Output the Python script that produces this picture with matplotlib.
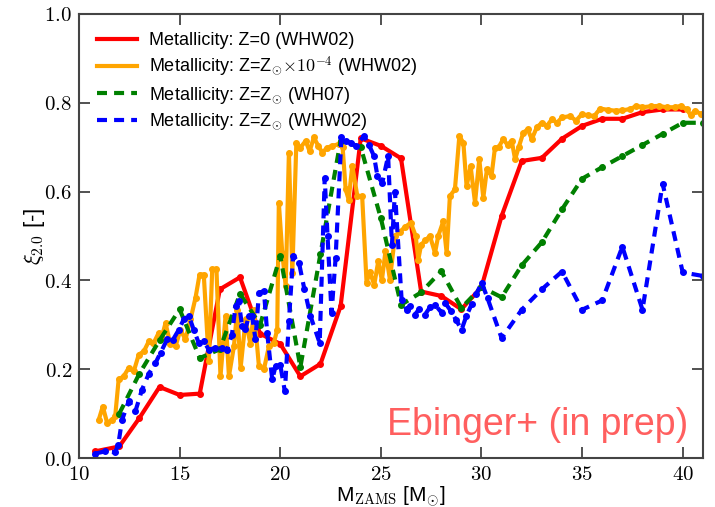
import matplotlib
matplotlib.use('Agg')
import matplotlib.pyplot as plt
from matplotlib.ticker import FormatStrFormatter

plt.rcParams['font.family'] = ['Liberation Sans', 'DejaVu Sans']
plt.rcParams['mathtext.fontset'] = 'cm'

# Z=0 (WHW02)
m_z0 = [10.8, 12, 13, 14, 15, 16, 17, 18, 19, 20, 21, 22, 23, 24, 25, 26, 27, 28, 29, 30,
        31, 32, 33, 34, 35, 36, 37, 38, 39, 40]
xi_z0 = [0.015, 0.026, 0.09, 0.16, 0.142, 0.145, 0.38, 0.407, 0.28, 0.257, 0.184, 0.212, 0.342,
         0.72, 0.703, 0.675, 0.375, 0.365, 0.335, 0.385, 0.545, 0.669, 0.676, 0.719, 0.748,
         0.764, 0.764, 0.779, 0.785, 0.785]

# Z=Zsun x 1e-4 (WHW02)
m_z4 = [10.98, 11.18, 11.4, 11.64, 11.8, 11.97, 12.22, 12.47, 12.72, 12.97, 13.22, 13.47, 13.7,
        13.96, 14.1, 14.3, 14.54, 14.8, 15.04, 15.29, 15.54, 15.79, 15.99, 16.2, 16.45, 16.62,
        16.83, 17.03, 17.28, 17.45, 17.7, 17.86, 18.03, 18.28, 18.52, 18.69, 18.94, 19.19, 19.44,
        19.68, 19.85, 19.93, 20.1, 20.27, 20.43, 20.6, 20.8, 21.0, 21.26, 21.46, 21.67, 21.89,
        22.09, 22.34, 22.59, 22.92, 23.1, 23.25, 23.4, 23.58, 23.83, 24.07, 24.29, 24.45, 24.67,
        24.87, 25.05, 25.23, 25.45, 25.7, 25.95, 26.2, 26.49, 26.73, 26.86, 27.0, 27.2, 27.44,
        27.69, 27.85, 28.1, 28.27, 28.43, 28.68, 28.9, 29.1, 29.26, 29.46, 29.68, 29.89, 30.09,
        30.27, 30.5, 30.67, 30.85, 31.08, 31.3, 31.5, 31.67, 31.85, 32.08, 32.3, 32.5, 32.75,
        33.0, 33.25, 33.5, 33.75, 34.0, 34.4, 34.7, 34.98, 35.3, 35.6, 35.9, 36.3, 36.7, 37.0,
        37.4, 37.7, 38.0, 38.4, 38.8, 39.2, 39.6, 39.9, 40.2, 40.4, 40.6, 40.9]
xi_z4 = [0.086, 0.116, 0.079, 0.086, 0.095, 0.177, 0.184, 0.203, 0.195, 0.233, 0.24, 0.263, 0.258,
         0.282, 0.27, 0.304, 0.256, 0.252, 0.289, 0.267, 0.312, 0.361, 0.413, 0.413, 0.218, 0.425,
         0.425, 0.184, 0.319, 0.184, 0.252, 0.334, 0.203, 0.312, 0.256, 0.334, 0.207, 0.2, 0.252,
         0.259, 0.289, 0.575, 0.462, 0.387, 0.688, 0.417, 0.71, 0.699, 0.714, 0.691, 0.722, 0.703,
         0.688, 0.699, 0.703, 0.707, 0.70, 0.605, 0.582, 0.658, 0.59, 0.59, 0.395, 0.42, 0.39,
         0.443, 0.40, 0.466, 0.402, 0.5, 0.51, 0.52, 0.53, 0.5, 0.447, 0.48, 0.49, 0.5,
         0.462, 0.5, 0.533, 0.462, 0.59, 0.605, 0.725, 0.71, 0.612, 0.657, 0.575, 0.673, 0.586,
         0.65, 0.636, 0.699, 0.70, 0.718, 0.705, 0.715, 0.673, 0.70, 0.733, 0.74, 0.718, 0.745,
         0.755, 0.748, 0.763, 0.755, 0.767, 0.77, 0.76, 0.774, 0.772, 0.77, 0.787, 0.784, 0.782, 0.783,
         0.786, 0.793, 0.79, 0.792, 0.793, 0.79, 0.79, 0.793, 0.785, 0.772, 0.782, 0.775]

# Z=Zsun (WH07)
m_wh07 = [12, 13, 14, 15, 16, 17, 18, 19, 20, 21, 22, 23, 24, 25, 26, 27, 28, 29, 30, 31, 32,
          33, 34, 35, 36, 37, 38, 39, 40, 41]
xi_wh07 = [0.10, 0.19, 0.265, 0.335, 0.225, 0.245, 0.37, 0.30, 0.455, 0.205, 0.46, 0.715, 0.70,
           0.54, 0.345, 0.373, 0.421, 0.338, 0.385, 0.362, 0.434, 0.486, 0.56, 0.629, 0.655,
           0.68, 0.705, 0.73, 0.755, 0.755]

# Z=Zsun (WHW02)
m_sun = [10.8, 11.3, 11.8, 11.95, 12.14, 12.47, 12.8, 13.13, 13.47, 13.8, 14.05, 14.38, 14.65,
         14.96, 15.2, 15.46, 15.7, 15.95, 16.2, 16.45, 16.78, 17.1, 17.36, 17.6, 17.78, 17.94,
         18.1, 18.27, 18.44, 18.6, 18.77, 18.94, 19.19, 19.35, 19.6, 19.77, 20.0, 20.23, 20.43,
         20.64, 20.93, 21.2, 21.5, 21.96, 22.21, 22.35, 22.55, 22.75, 23.04, 23.25, 23.5, 23.75,
         24.16, 24.4, 24.66, 24.83, 25.07, 25.36, 25.55, 25.7, 26.03, 26.28, 26.44, 26.69, 26.9,
         27.19, 27.45, 27.7, 28.02, 28.18, 28.5, 28.75, 29.01, 29.25, 29.51, 29.75, 30.01, 30.3,
         31, 32, 33, 34, 35, 36, 37, 38, 39, 40, 41]
xi_sun = [0.01, 0.015, 0.013, 0.03, 0.086, 0.128, 0.105, 0.154, 0.19, 0.214, 0.237, 0.267, 0.265,
          0.289, 0.312, 0.32, 0.289, 0.259, 0.263, 0.244, 0.248, 0.248, 0.244, 0.278, 0.342, 0.353,
          0.297, 0.29, 0.32, 0.32, 0.267, 0.372, 0.376, 0.282, 0.177, 0.207, 0.21, 0.15, 0.308,
          0.455, 0.44, 0.38, 0.32, 0.259, 0.631, 0.5, 0.327, 0.45, 0.722, 0.714, 0.71, 0.703,
          0.725, 0.706, 0.68, 0.635, 0.62, 0.68, 0.48, 0.60, 0.357, 0.334, 0.342, 0.323, 0.335,
          0.323, 0.34, 0.345, 0.327, 0.35, 0.33, 0.31, 0.289, 0.32, 0.346, 0.37, 0.395, 0.36,
          0.27, 0.334, 0.38, 0.42, 0.334, 0.355, 0.476, 0.334, 0.618, 0.418, 0.41]

fig = plt.figure(figsize=(7.15, 5.07), dpi=100)
ax = fig.add_axes([0.1105, 0.0966, 0.8725, 0.8758])

dash = (2.4, 1.7)
ax.plot(m_z0, xi_z0, '-', color='red', lw=3, marker='o', ms=4,
        label='Metallicity: Z=0 (WHW02)')
ax.plot(m_z4, xi_z4, '-', color='orange', lw=3, marker='o', ms=4,
        label=r'Metallicity: Z=Z$_{{\odot}}{\times}10^{-4}$ (WHW02)')
ax.plot(m_wh07, xi_wh07, '--', color='green', lw=3, marker='o', ms=4, dashes=dash,
        label=r'Metallicity: Z=Z$_{{\odot}}$ (WH07)')
ax.plot(m_sun, xi_sun, '--', color='blue', lw=3, marker='o', ms=4, dashes=dash,
        label=r'Metallicity: Z=Z$_{{\odot}}$ (WHW02)')

ax.set_xlim(10, 41)
ax.set_ylim(0, 1)
ax.set_xticks([10, 15, 20, 25, 30, 35, 40])
ax.set_yticks([0, 0.2, 0.4, 0.6, 0.8, 1.0])
ax.xaxis.set_major_formatter(FormatStrFormatter(r'$%d$'))
ax.yaxis.set_major_formatter(FormatStrFormatter(r'$%.1f$'))
ax.tick_params(direction='in', length=8, width=1.2, top=True, right=True,
               labelsize=15, pad=5, colors='#333333', labelcolor='black')
for s in ax.spines.values():
    s.set_color('#444444')
    s.set_linewidth(1.5)

ax.set_xlabel(r'M$_{\rm ZAMS}$ [M$_{{\odot}}$]', fontsize=15, labelpad=0)
ax.set_ylabel(r'$\xi_{2.0}$ [-]', fontsize=16, labelpad=-2)

leg = ax.legend(loc='upper left', frameon=False, fontsize=13, handlelength=2.2,
                labelspacing=0.33, borderaxespad=0.6, handletextpad=0.65)
for h in leg.get_lines():
    h.set_marker('')

ax.text(0.735, 0.075, 'Ebinger+ (in prep)', transform=ax.transAxes, ha='center',
        va='center', fontsize=27, color='#ff5f5f')

fig.savefig('out.png', dpi=100)
